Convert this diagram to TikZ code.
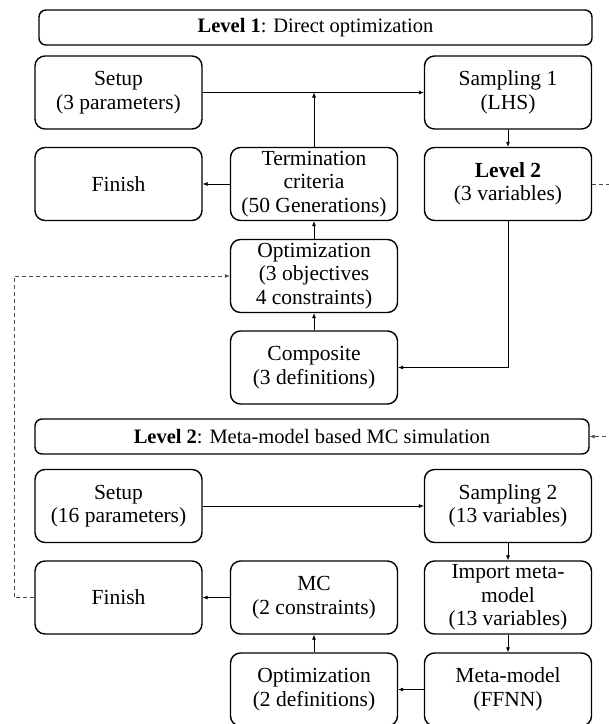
\documentclass[tikz,border=0pt]{standalone}
\usepackage{fontspec}
\setmainfont{Liberation Serif}
\usetikzlibrary{arrows.meta}
\begin{document}
\begin{tikzpicture}[x=1pt,y=-1pt,
  box/.style={draw, line width=1.4pt, rounded corners=10pt, minimum width=167pt, minimum height=73pt,
    align=center, inner sep=0pt, font=\fontsize{21.5}{23.5}\selectfont},
  bar/.style={draw, line width=1.4pt, rounded corners=7pt, align=center, inner sep=0pt,
    font=\fontsize{20.5}{23}\selectfont},
  conn/.style={line width=0.6pt, -{Latex[length=5pt,width=4pt]}},
  dashconn/.style={line width=0.6pt, draw=black!70, dash pattern=on 4pt off 3pt, -{Latex[length=5pt,width=4pt]}}
]
\useasboundingbox (0,0) rectangle (609,724);
% Level 1
\node[bar, minimum width=553pt, minimum height=35pt] (bar1) at (315.5,27.5) {\textbf{Level 1}: Direct optimization};
\node[box] (setup1) at (118.5,92.5) {Setup\\(3 parameters)};
\node[box] (samp1) at (508,92.5) {Sampling 1\\(LHS)};
\node[box] (fin1) at (118.5,184) {Finish};
\node[box] (term) at (314,184) {Termination\\criteria\\(50 Generations)};
\node[box] (lev2) at (508,184) {\textbf{Level 2}\\(3 variables)};
\node[box] (opt1) at (314,276) {Optimization\\(3 objectives\\4 constraints)};
\node[box] (comp) at (314,367.5) {Composite\\(3 definitions)};
% Level 2
\node[bar, minimum width=554pt, minimum height=35pt] (bar2) at (312,436.5) {\textbf{Level 2}: Meta-model based MC simulation};
\node[box] (setup2) at (118.5,506) {Setup\\(16 parameters)};
\node[box] (samp2) at (508,506) {Sampling 2\\(13 variables)};
\node[box] (fin2) at (118.5,597.5) {Finish};
\node[box] (mc) at (314,597.5) {MC\\(2 constraints)};
\node[box] (imp) at (508,597.5) {Import meta-\\model\\(13 variables)};
\node[box] (opt2) at (314,689.5) {Optimization\\(2 definitions)};
\node[box] (meta) at (508,689.5) {Meta-model\\(FFNN)};
% connectors level 1
\draw[conn] (setup1) -- (samp1);
\draw[conn] (term.north) -- (term.north |- setup1.east);
\draw[conn] (term) -- (fin1);
\draw[conn] (samp1) -- (lev2);
\draw[conn] (opt1) -- (term);
\draw[conn] (comp) -- (opt1);
\draw[conn] (lev2.south) |- (comp.east);
% connectors level 2
\draw[conn] (setup2) -- (samp2);
\draw[conn] (samp2) -- (imp);
\draw[conn] (imp) -- (meta);
\draw[conn] (meta) -- (opt2);
\draw[conn] (opt2) -- (mc);
\draw[conn] (mc) -- (fin2);
% dashed links
\coordinate (lft) at (14,0);
\coordinate (rgt) at (613,0);
\draw[dashconn] (fin2.west) -- (fin2.west -| lft) |- (opt1.west);
\draw[dashconn] (lev2.east) -- (lev2.east -| rgt) |- (bar2.east);
\end{tikzpicture}
\end{document}
